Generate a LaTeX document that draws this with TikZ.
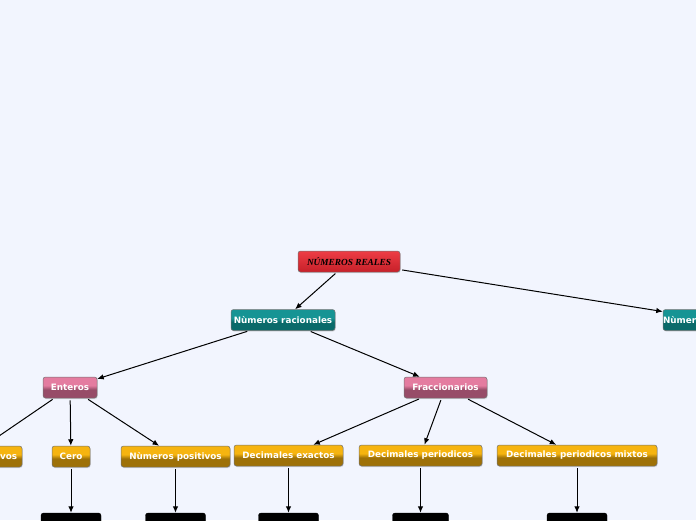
\documentclass[tikz,border=0pt]{standalone}
\usepackage{fontspec}
\setmainfont{DejaVu Sans}
\newfontfamily\titlefont{Liberation Serif}
\usetikzlibrary{arrows.meta,shadows}
\definecolor{bgc}{HTML}{F2F5FE}
\definecolor{redT}{HTML}{EE3D45}
\definecolor{redB}{HTML}{C62029}
\definecolor{tealT}{HTML}{169494}
\definecolor{tealB}{HTML}{0A6A6A}
\definecolor{pinkT}{HTML}{E47CA0}
\definecolor{pinkB}{HTML}{974C68}
\definecolor{orT}{HTML}{F6B410}
\definecolor{orB}{HTML}{9E7108}
\pgfdeclareverticalshading{redsh}{100bp}{color(0bp)=(redB); color(25bp)=(redB); color(75bp)=(redT); color(100bp)=(redT)}
\pgfdeclareverticalshading{tealsh}{100bp}{color(0bp)=(tealB); color(25bp)=(tealB); color(45bp)=(tealB); color(55bp)=(tealT); color(75bp)=(tealT); color(100bp)=(tealT)}
\pgfdeclareverticalshading{pinksh}{100bp}{color(0bp)=(pinkB); color(25bp)=(pinkB); color(45bp)=(pinkB); color(55bp)=(pinkT); color(75bp)=(pinkT); color(100bp)=(pinkT)}
\pgfdeclareverticalshading{orsh}{100bp}{color(0bp)=(orB); color(25bp)=(orB); color(45bp)=(orB); color(55bp)=(orT); color(75bp)=(orT); color(100bp)=(orT)}
\tikzset{
  box/.style={rounded corners=2.5pt, draw=black!55, line width=0.5pt, inner sep=0pt,
    minimum height=21pt, text=white, font=\fontsize{8.8}{10}\selectfont\bfseries,
    drop shadow={shadow xshift=0.6pt, shadow yshift=-1pt, opacity=0.25}},
  redbox/.style={box, shading=redsh, text=black, font=\titlefont\fontsize{9.3}{10}\selectfont\bfseries\itshape},
  tealbox/.style={box, shading=tealsh},
  pinkbox/.style={box, shading=pinksh},
  orbox/.style={box, shading=orsh},
  blackbox/.style={rounded corners=2.5pt, fill=black, draw=black, minimum height=20pt, minimum width=60pt, inner sep=0pt},
  arr/.style={-{Latex[length=6.5pt,width=5.5pt]}, line width=1pt, black, shorten <=2pt}
}
\begin{document}
\begin{tikzpicture}[x=1pt,y=-1pt]
\fill[bgc] (0,0) rectangle (696,520);
\useasboundingbox (0,0) rectangle (696,520);
\node[redbox, minimum width=102pt] (reales) at (349,261.5) {NÚMEROS REALES};
\node[tealbox, minimum width=104pt] (racion) at (283,320) {Nùmeros racionales};
\node[tealbox, minimum width=106pt] (irr) at (716,320) {Nùmeros irracionales};
\node[pinkbox, minimum width=54pt] (enteros) at (70,387.5) {Enteros};
\node[pinkbox, minimum width=83pt] (fracc) at (445.5,387.5) {Fraccionarios};
\node[orbox, minimum width=106pt] (neg) at (-31,456.5) {Nùmeros negativos};
\node[orbox, minimum width=38pt] (cero) at (71,456.5) {Cero};
\node[orbox, minimum width=109pt] (pos) at (175.5,456.5) {Nùmeros positivos};
\node[orbox, minimum width=109pt] (exact) at (288.5,455.5) {Decimales exactos};
\node[orbox, minimum width=123pt] (period) at (420.5,455.5) {Decimales periodicos};
\node[orbox, minimum width=160pt] (mixtos) at (577,455.5) {Decimales periodicos mixtos};
\node[blackbox] (b1) at (71,523) {};
\node[blackbox] (b2) at (175.5,523) {};
\node[blackbox] (b3) at (288.5,523) {};
\node[blackbox, minimum width=56pt] (b4) at (420.5,523) {};
\node[blackbox] (b5) at (577,523) {};
\draw[arr] (reales) -- (racion);
\draw[arr] (reales) -- (irr);
\draw[arr] (racion) -- (enteros);
\draw[arr] (racion) -- (fracc);
\draw[arr] (enteros) -- (neg);
\draw[arr] (enteros) -- (cero);
\draw[arr] (enteros) -- (pos);
\draw[arr] (fracc) -- (exact);
\draw[arr] (fracc) -- (period);
\draw[arr] (fracc) -- (mixtos);
\draw[arr] (cero) -- (b1);
\draw[arr] (pos) -- (b2);
\draw[arr] (exact) -- (b3);
\draw[arr] (period) -- (b4);
\draw[arr] (mixtos) -- (b5);
\end{tikzpicture}
\end{document}
